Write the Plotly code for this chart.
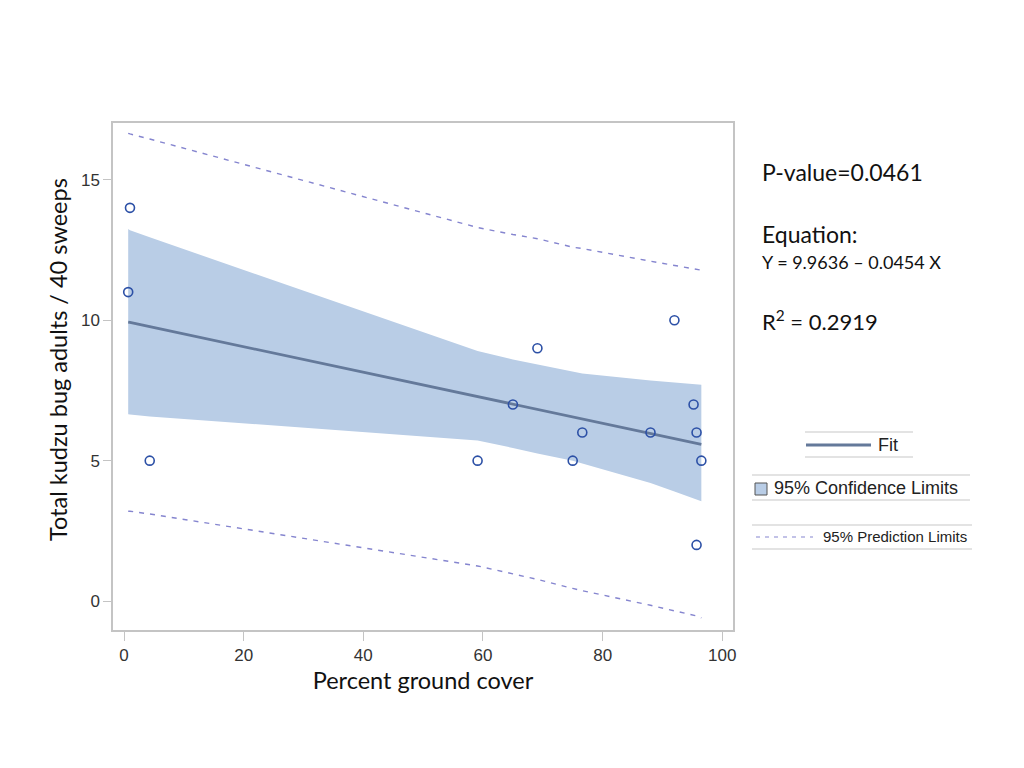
import plotly.graph_objects as go

# ---- data ----
obs_x = [1.0, 0.7, 4.3, 59.1, 65.0, 69.1, 75.0, 76.6, 88.0, 92.0, 95.2, 95.7, 95.7, 96.5]
obs_y = [14, 11, 5, 5, 7, 9, 5, 6, 6, 10, 7, 6, 2, 5]

band_x = [0.7, 1.0, 4.3, 59.1, 65.0, 69.1, 75.0, 76.6, 88.0, 92.0, 95.2, 95.7, 96.5]
fit_y = [9.93, 9.92, 9.77, 7.28, 7.01, 6.83, 6.56, 6.49, 5.97, 5.79, 5.64, 5.62, 5.58]
cl_upper = [13.25, 13.2, 12.95, 8.9, 8.6, 8.42, 8.15, 8.1, 7.85, 7.78, 7.73, 7.72, 7.7]
cl_lower = [6.65, 6.64, 6.57, 5.72, 5.45, 5.25, 5.0, 4.9, 4.2, 3.9, 3.65, 3.6, 3.55]
pl_upper = [16.65, 16.63, 16.45, 13.3, 13.05, 12.9, 12.6, 12.55, 12.1, 11.95, 11.82, 11.8, 11.78]
pl_lower = [3.2, 3.2, 3.1, 1.25, 0.97, 0.77, 0.45, 0.37, -0.15, -0.35, -0.5, -0.53, -0.6]

x_ticks = [0, 20, 40, 60, 80, 100]
y_ticks = [0, 5, 10, 15]

stats_lines = ["P-value=0.0461", "Equation:", "Y = 9.9636 \u2013 0.0454 X", "R<sup>2</sup> = 0.2919"]
legend_labels = ["Fit", "95% Confidence Limits", "95% Prediction Limits"]

BAND = "#b9cde6"
FIT = "#64799a"
MARK = "#2c50a6"
PRED = "#8585cf"
FRAME = "#c4c4c4"

fig = go.Figure()
fig.add_trace(go.Scatter(x=band_x, y=cl_lower, mode="lines", line=dict(width=0, color=BAND),
                         showlegend=False, hoverinfo="skip"))
fig.add_trace(go.Scatter(x=band_x, y=cl_upper, mode="lines", line=dict(width=0, color=BAND),
                         fill="tonexty", fillcolor=BAND, showlegend=False, hoverinfo="skip"))
fig.add_trace(go.Scatter(x=band_x, y=fit_y, mode="lines", line=dict(width=2.8, color=FIT),
                         showlegend=False))
fig.add_trace(go.Scatter(x=band_x, y=pl_upper, mode="lines", line=dict(width=1.4, color=PRED, dash="5px,6px"),
                         showlegend=False))
fig.add_trace(go.Scatter(x=band_x, y=pl_lower, mode="lines", line=dict(width=1.4, color=PRED, dash="5px,6px"),
                         showlegend=False))
fig.add_trace(go.Scatter(x=obs_x, y=obs_y, mode="markers",
                         marker=dict(symbol="circle-open", size=9, color=MARK, line=dict(width=1.6, color=MARK)),
                         showlegend=False))

# page body has an 8px margin, so the figure is drawn at (8, 8)
OFF = 8
W, H = 1024 - OFF, 768 - OFF
L, T = 113 - OFF, 123 - OFF
PW, PH = 620, 507
R = W - L - PW
B = H - T - PH

def px(xp):
    return (xp - OFF - L) / PW

def py(yp):
    return (T + PH - (yp - OFF)) / PH

shapes = []
annotations = []

def hline(x0, x1, y, color="#c8c8c8", width=1.2, dash=None):
    ln = dict(color=color, width=width)
    if dash:
        ln["dash"] = dash
    shapes.append(dict(type="line", xref="paper", yref="paper", x0=px(x0), x1=px(x1), y0=py(y), y1=py(y), line=ln))

def text(x, y, s, size, font="Lato", color="#111", xanchor="left", angle=0):
    annotations.append(dict(xref="paper", yref="paper", x=px(x), y=py(y), text=s, showarrow=False,
                            xanchor=xanchor, yanchor="middle", textangle=angle,
                            font=dict(family=font, size=size, color=color)))

# legend: Fit
hline(805, 913, 432)
hline(805, 913, 457)
hline(806, 871, 445, color=FIT, width=2.8)
text(876, 445, legend_labels[0], 18, font="Liberation Sans", color="#222")
# legend: confidence
hline(752, 970, 475)
hline(752, 970, 500)
shapes.append(dict(type="rect", xref="paper", yref="paper", x0=px(755), x1=px(767), y0=py(495), y1=py(483),
                   fillcolor=BAND, line=dict(color="#555", width=1)))
text(772, 488, legend_labels[1], 18, font="Liberation Sans", color="#222")
# legend: prediction
hline(752, 972, 525)
hline(752, 972, 549)
hline(756, 813, 537, color=PRED, width=1.2, dash="4px,5px")
text(821, 536, legend_labels[2], 15, font="Liberation Sans", color="#222")

# stats text
text(760, 172, stats_lines[0], 23)
text(760, 234, stats_lines[1], 23)
text(760, 262, stats_lines[2], 18)
text(760, 320, stats_lines[3], 22)

# y title
text(58, 360, "Total kudzu bug adults / 40 sweeps", 23.5, xanchor="center", angle=-90)

fig.update_layout(
    width=W, height=H,
    margin=dict(l=L, r=R, t=T, b=B),
    paper_bgcolor="white", plot_bgcolor="white",
    shapes=shapes, annotations=annotations,
    showlegend=False,
    xaxis=dict(range=[-1.84, 101.79], tickvals=x_ticks, ticks="outside", ticklen=9, tickcolor=FRAME,
               showline=True, linecolor=FRAME, linewidth=1.5, mirror=True, showgrid=False, zeroline=False,
               tickfont=dict(family="Liberation Sans", size=17, color="#333"),
               title=dict(text="Percent ground cover", font=dict(family="Lato", size=23.5, color="#111"), standoff=8)),
    yaxis=dict(range=[-1.03, 17.02], tickvals=y_ticks, ticks="outside", ticklen=8, tickcolor=FRAME,
               showline=True, linecolor=FRAME, linewidth=1.5, mirror=True, showgrid=False, zeroline=False,
               tickfont=dict(family="Liberation Sans", size=17, color="#333")),
)

fig.write_html("out.html")
